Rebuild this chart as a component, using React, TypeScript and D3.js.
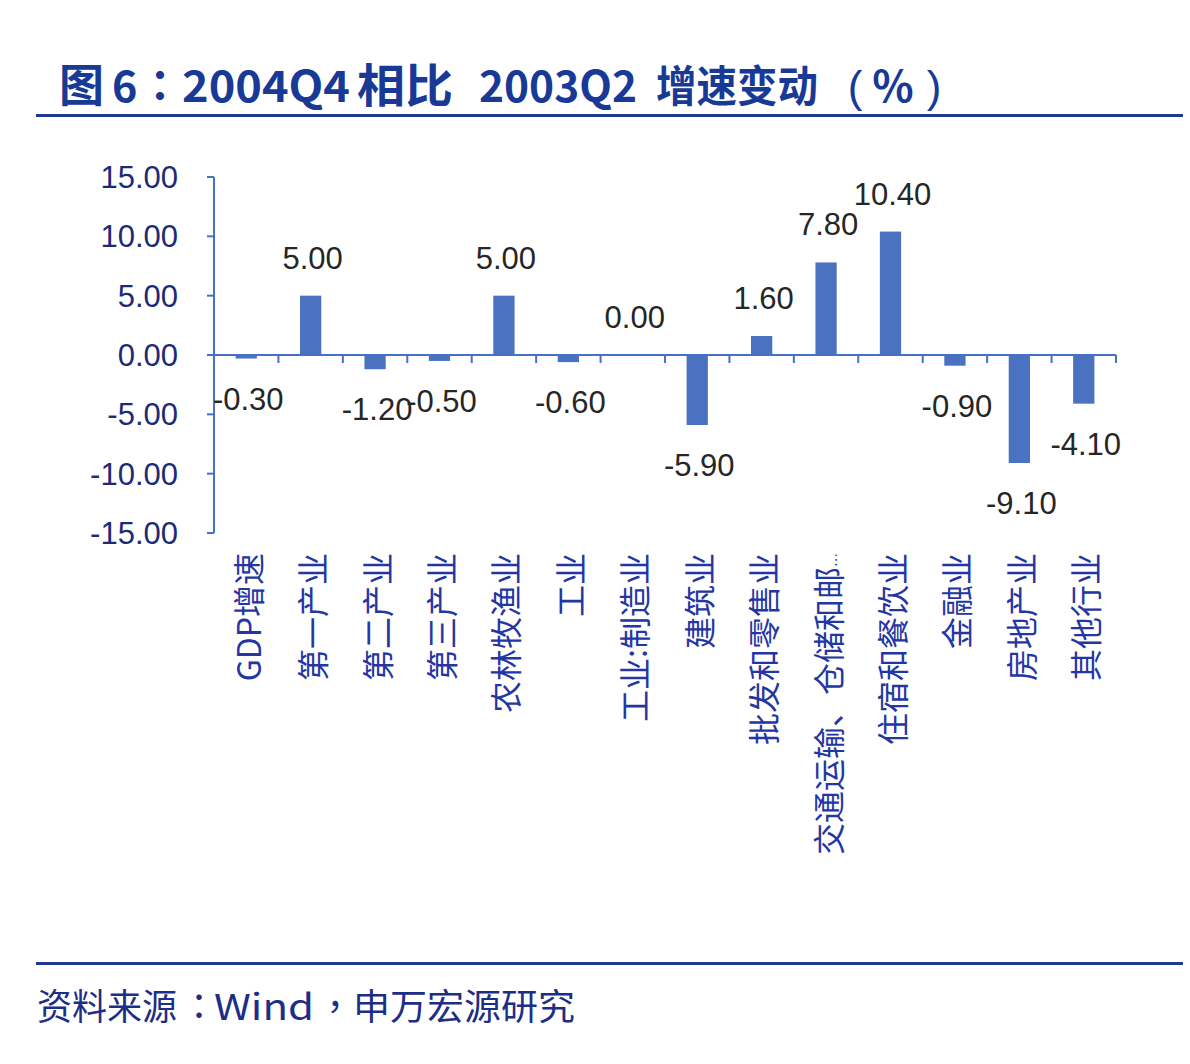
import React from "react";
import * as d3 from "d3";

const categories = [
  "GDP增速",
  "第一产业",
  "第二产业",
  "第三产业",
  "农林牧渔业",
  "工业",
  "工业:制造业",
  "建筑业",
  "批发和零售业",
  "交通运输、仓储和邮政业",
  "住宿和餐饮业",
  "金融业",
  "房地产业",
  "其他行业",
];
const values = [-0.3, 5.0, -1.2, -0.5, 5.0, -0.6, 0.0, -5.9, 1.6, 7.8, 10.4, -0.9, -9.1, -4.1];
const yTicks = [15, 10, 5, 0, -5, -10, -15];

const LATIN = "'Liberation Sans', Arial, 'Noto Sans CJK SC', sans-serif";
const CJK = "'Noto Sans CJK SC', 'Liberation Sans', sans-serif";
const CJK_TC = "'Noto Sans CJK TC', 'Noto Sans CJK SC', sans-serif";

const fmt = d3.formatLocale({ decimal: ".", thousands: ",", grouping: [3], currency: ["", ""], minus: "-" }).format(".2f");

export default function App() {
  const W = 1190;
  const H = 1064;
  const x = d3
    .scaleBand<string>()
    .domain(categories)
    .range([214, 1116])
    .paddingInner(0.67)
    .paddingOuter(0.335);
  const y = d3.scaleLinear().domain([-15, 15]).range([533, 177]);
  const step = x.step();
  const bw = x.bandwidth();
  const x0 = 214;
  const y0 = y(0);
  const axisColor = "#4472c4";
  const barColor = "#4a72c0";
  const titleColor = "#183a96";
  const srcColor = "#1c2e86";

  const truncate = (s: string) => (s.length > 9 ? s.slice(0, 9) : s);

  const tProps = { fontFamily: CJK, fontWeight: "bold" as const, fontSize: 43, fill: titleColor, y: 102 };
  const sProps = { fontFamily: CJK, fontSize: 36, fill: srcColor, y: 1020 };

  return (
    <svg
      width={W}
      height={H}
      viewBox={`0 0 ${W} ${H}`}
      style={{ position: "absolute", left: 0, top: 0, background: "#fff" }}
    >
      <rect x={0} y={0} width={W} height={H} fill="#ffffff" />
      {/* Title */}
      <text {...tProps} x={59} fontSize={45}>图</text>
      <text {...tProps} x={112}>6</text>
      <text {...tProps} x={160} textAnchor="middle" fontFamily={CJK_TC}>：</text>
      <text {...tProps} x={182} textLength={168} lengthAdjust="spacingAndGlyphs">2004Q4</text>
      <text {...tProps} x={357} fontSize={46} textLength={96} lengthAdjust="spacingAndGlyphs">相比</text>
      <text {...tProps} x={479} textLength={158} lengthAdjust="spacingAndGlyphs">2003Q2</text>
      <text {...tProps} x={656} textLength={162} lengthAdjust="spacingAndGlyphs">增速变动</text>
      <text {...tProps} x={855} textAnchor="middle" fontWeight="normal" fontFamily={LATIN} fontSize={44}>(</text>
      <text {...tProps} x={893} textAnchor="middle">%</text>
      <text {...tProps} x={934} textAnchor="middle" fontWeight="normal" fontFamily={LATIN} fontSize={44}>)</text>
      <line x1={36} x2={1183} y1={115.5} y2={115.5} stroke="#1d3a8c" strokeWidth={3} />

      {/* Y axis */}
      <line x1={x0} x2={x0} y1={y(15)} y2={y(-15)} stroke={axisColor} strokeWidth={2} />
      {yTicks.map((t) => (
        <g key={t}>
          <line x1={x0 - 7} x2={x0} y1={y(t)} y2={y(t)} stroke={axisColor} strokeWidth={2} />
          <text
            x={178}
            y={y(t)}
            dy="0.36em"
            textAnchor="end"
            fontFamily={LATIN}
            fontSize={31}
            fill="#1c2a78"
          >
            {fmt(t)}
          </text>
        </g>
      ))}

      {/* Bars */}
      {categories.map((c, i) => {
        const v = values[i];
        const top = Math.min(y(v), y0);
        const h = Math.abs(y(v) - y0);
        return <rect key={c} x={x(c)!} y={top} width={bw} height={h} fill={barColor} />;
      })}

      {/* X axis */}
      <line x1={x0} x2={x0 + step * categories.length} y1={y0} y2={y0} stroke={axisColor} strokeWidth={2} />
      {categories.map((c, i) => (
        <line
          key={"t" + c}
          x1={x0 + step * (i + 1)}
          x2={x0 + step * (i + 1)}
          y1={y0}
          y2={y0 + 8}
          stroke={axisColor}
          strokeWidth={2}
        />
      ))}

      {/* Value labels */}
      {categories.map((c, i) => {
        const v = values[i];
        const cx = x(c)! + bw / 2;
        const ty = v >= 0 ? y(v) - 27 : y(v) + 51;
        return (
          <text
            key={"v" + c}
            x={cx + 2}
            y={ty}
            textAnchor="middle"
            fontFamily={LATIN}
            fontSize={31}
            fill="#262626"
          >
            {fmt(v)}
          </text>
        );
      })}

      {/* Category labels */}
      {categories.map((c) => {
        const cx = x(c)! + bw / 2 + 3;
        const long = c.length > 9;
        return (
          <text
            key={"c" + c}
            transform={`translate(${cx},553) rotate(-90)`}
            textAnchor="end"
            dy="0.36em"
            fontFamily={CJK}
            fontSize={32}
            fill="#2436a4"
          >
            {truncate(c)}
            {long ? <tspan fontSize={14}>…</tspan> : null}
          </text>
        );
      })}

      {/* Footer */}
      <line x1={36} x2={1183} y1={963.5} y2={963.5} stroke="#1d3a8c" strokeWidth={3} />
      <text {...sProps} x={37} textLength={140} lengthAdjust="spacingAndGlyphs">资料来源</text>
      <text {...sProps} x={199} textAnchor="middle" fontFamily={CJK_TC}>：</text>
      <text {...sProps} x={214} textLength={100} lengthAdjust="spacingAndGlyphs">Wind</text>
      <text {...sProps} x={335} textAnchor="middle" fontFamily={CJK_TC}>，</text>
      <text {...sProps} x={353} textLength={222} lengthAdjust="spacingAndGlyphs">申万宏源研究</text>
    </svg>
  );
}
